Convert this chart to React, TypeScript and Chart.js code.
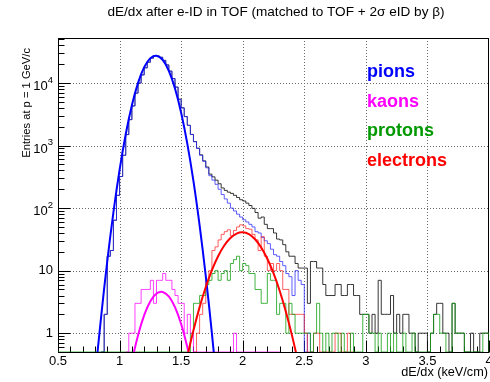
import React, { useEffect, useRef } from "react";
import { Chart, registerables } from "chart.js";

Chart.register(...registerables);

// ---------- axis / binning ----------
const BIN_WIDTH = 0.025;
const X_MIN = 0.5;
const X_MAX = 4.0;
const Y_MIN = 0.5;
const Y_MAX = 52500;

const X_TICK_VALUES = [0.5, 1, 1.5, 2, 2.5, 3, 3.5, 4];
const X_TICK_LABELS = ["0.5", "1", "1.5", "2", "2.5", "3", "3.5", "4"];
const Y_TICK_VALUES = [1, 10, 100, 1000, 10000];
const Y_TICK_BASES = ["1", "10", "10", "10", "10"];
const Y_TICK_EXPONENTS = ["", "", "2", "3", "4"];

const TITLE = "dE/dx after e-ID in TOF (matched to TOF + 2σ eID by β)";
const X_TITLE = "dE/dx (keV/cm)";
const Y_TITLE = "Entries at p = 1 GeV/c";

const SPECIES = ["pions", "kaons", "protons", "electrons"];
const SPECIES_COLORS = ["#0000ff", "#ff00ff", "#009900", "#ff0000"];

// ---------- histograms (bin counts, first bin low edge = start) ----------
const allStart = 0.85;
const allCounts = [
  0, 2, 17, 21, 64, 160, 320, 700, 1500, 2600,
  4300, 6900, 10000, 13500, 17510, 21510, 25010, 27510, 27010, 25810,
  23010, 19510, 15510, 11810, 8610, 5510, 4010, 2910, 2110, 1510,
  1160, 910, 710, 570, 455, 350, 316, 280, 245, 210,
  192, 180, 172, 160, 148, 136, 130, 120, 110, 99,
  85, 69, 72, 55, 47, 47, 40, 32, 31, 26,
  20, 17, 17, 13, 11, 11, 11, 3, 14, 14,
  11, 11, 6, 4, 4, 4, 6, 6, 4, 4,
  6, 6, 4, 4, 2, 2, 2, 1, 2, 1,
  7, 2, 2, 2, 4, 1, 2, 1, 2, 2,
  1, 1, 0, 1, 1, 1, 0, 1, 2, 3,
  3, 1, 1, 0, 3, 1, 1, 1, 0, 0,
  1, 0, 0, 1, 1, 1,
];

const pionStart = 0.85;
const pionCounts = [
  0, 2, 17, 21, 64, 160, 320, 700, 1500, 2600,
  4300, 6900, 10000, 13500, 17500, 21500, 25000, 27500, 27000, 25800,
  23000, 19500, 15500, 11800, 8600, 5500, 4000, 2900, 2100, 1500,
  1150, 900, 700, 560, 440, 330, 280, 240, 200, 165,
  140, 120, 100, 90, 80, 72, 65, 60, 55, 50,
  42, 40, 34, 30, 27, 22, 18, 17, 14, 12,
  9, 8, 4, 10, 7, 6, 0, 1, 0,
];

const kaonStart = 1.05;
const kaonCounts = [
  0, 1, 1, 3, 3, 5, 5, 5, 7, 3,
  7, 7, 9, 7, 7, 5, 4, 3, 3, 1,
  2, 1, 0, 0, 0, 0, 0, 0, 0, 0,
  0, 0, 0, 0, 0, 1, 0, 0, 0, 0,
  0, 0, 0, 0, 0, 0, 0, 0, 0, 0,
];

const protonStart = 0.5;
const protonCounts = [
  0, 0, 0, 0, 0, 0, 0, 0, 0, 0,
  0, 0, 0, 0, 0, 0, 0, 0, 0, 0,
  0, 0, 0, 0, 0, 0, 0, 0, 0, 0,
  0, 0, 0, 0, 0, 0, 0, 0, 0, 0,
  0, 0,
  0, 1, 3, 3, 4, 4, 6, 7, 9, 10,
  7, 9, 10, 7, 13, 15, 17, 10, 13, 12,
  9, 9, 5, 5, 3, 3, 9, 7, 7, 2,
  3, 3, 1, 3, 2, 1, 1, 1, 1, 1,
  0, 1, 3, 1, 0, 1, 0, 1, 1, 0,
  1, 0, 0, 1, 0, 0, 0, 2, 2, 1,
  1, 0, 1, 0, 0, 1, 0, 1, 0, 0,
  1, 0, 0, 1, 0, 0, 0, 0, 0, 1,
  2, 2, 1, 1, 0, 0, 3, 1, 1, 1,
  0, 0, 0, 0, 0, 0, 1, 1,
];

const electronStart = 1.6;
const electronCounts = [
  0, 1, 2, 3, 7, 10, 21, 24, 31, 38,
  42, 45, 36, 44, 50, 54, 52, 47, 46, 38,
  31, 21, 35, 17, 10, 13, 10, 13, 10, 5,
  5, 2, 2, 2, 2, 2, 1, 0, 0, 1,
  1, 0, 0, 0, 0, 0, 1, 1, 0, 0,
  1, 0,
];

// ---------- fitted curves ----------
const pionFitX = [0.75, 0.8, 0.85, 0.9, 0.95, 1.0, 1.05, 1.1, 1.15, 1.2, 1.25, 1.3, 1.35, 1.4, 1.45, 1.5, 1.55, 1.6, 1.65, 1.7, 1.75, 1.8, 1.85];
const pionFitY = [0.0145, 0.184, 1.81, 14.1, 85.7, 407, 1517, 4415, 10060, 17930, 25030, 27330, 23370, 15630, 8180, 3355, 1076, 270, 52.9, 8.15, 0.98, 0.092, 0.0068];

const kaonFitX = [1.0, 1.05, 1.1, 1.15, 1.2, 1.25, 1.3, 1.35, 1.4, 1.45, 1.5, 1.55, 1.6, 1.65, 1.7];
const kaonFitY = [0.0259, 0.107, 0.352, 0.926, 1.939, 3.237, 4.308, 4.57, 3.864, 2.604, 1.399, 0.599, 0.205, 0.0556, 0.0121];

const electronFitX = [1.45, 1.5, 1.55, 1.6, 1.65, 1.7, 1.75, 1.8, 1.85, 1.9, 1.95, 2.0, 2.05, 2.1, 2.15, 2.2, 2.25, 2.3, 2.35, 2.4, 2.45, 2.5, 2.55];
const electronFitY = [0.0426, 0.1415, 0.42, 1.11, 2.61, 5.47, 10.23, 17.01, 25.21, 33.28, 39.12, 40.98, 38.23, 31.77, 23.52, 15.51, 9.11, 4.77, 2.22, 0.922, 0.341, 0.112, 0.033];

const FONT = "'Liberation Sans', Arial, Helvetica, sans-serif";

function histPoints(start: number, counts: number[]) {
  const pts = counts.map((c, i) => ({ x: start + i * BIN_WIDTH, y: c > 0 ? c : Y_MIN }));
  pts.push({ x: start + counts.length * BIN_WIDTH, y: Y_MIN });
  return pts;
}

function curvePoints(xs: number[], ys: number[]) {
  return xs.map((x, i) => ({ x, y: ys[i] }));
}

const rootStylePlugin = {
  id: "rootStyle",
  beforeDatasetsDraw(chart: any) {
    const { ctx, chartArea: a } = chart;
    const xs = chart.scales.x;
    const ys = chart.scales.y;
    const line = (x1: number, y1: number, x2: number, y2: number) => {
      ctx.beginPath();
      ctx.moveTo(x1, y1);
      ctx.lineTo(x2, y2);
      ctx.stroke();
    };
    ctx.save();
    // dotted grid
    ctx.strokeStyle = "#6a6a6a";
    ctx.lineWidth = 1;
    ctx.setLineDash([1, 2]);
    X_TICK_VALUES.forEach((v) => {
      if (v <= X_MIN || v >= X_MAX) return;
      const px = Math.round(xs.getPixelForValue(v)) + 0.5;
      line(px, a.top, px, a.bottom);
    });
    Y_TICK_VALUES.forEach((v) => {
      const py = Math.round(ys.getPixelForValue(v)) + 0.5;
      line(a.left, py, a.right, py);
    });
    ctx.setLineDash([]);
    // frame
    ctx.strokeStyle = "#000";
    const l = Math.round(a.left) + 0.5;
    const t = Math.round(a.top) + 0.5;
    const r = Math.round(a.right) - 0.5;
    const b = Math.round(a.bottom) + 0.5;
    ctx.strokeRect(l, t, r - l, b - t);
    // x ticks (inside, from bottom)
    for (let k = 5; k <= 40; k++) {
      const v = k / 10;
      const px = Math.round(xs.getPixelForValue(v)) + 0.5;
      const len = k % 5 === 0 ? 12 : 6;
      line(px, b, px, b - len);
    }
    // y ticks (inside, from left)
    for (let e = -1; e <= 4; e++) {
      for (let m = 1; m <= 9; m++) {
        const v = m * Math.pow(10, e);
        if (v < Y_MIN || v > Y_MAX) continue;
        const py = Math.round(ys.getPixelForValue(v)) + 0.5;
        const len = m === 1 ? 12 : 6;
        line(l, py, l + len, py);
      }
    }
    ctx.restore();
  },
  afterDraw(chart: any) {
    const { ctx, chartArea: a } = chart;
    const xs = chart.scales.x;
    const ys = chart.scales.y;
    ctx.save();
    ctx.fillStyle = "#000";
    // x tick labels
    ctx.font = `13px ${FONT}`;
    ctx.textAlign = "center";
    ctx.textBaseline = "middle";
    X_TICK_VALUES.forEach((v, i) => {
      ctx.fillText(X_TICK_LABELS[i], xs.getPixelForValue(v), a.bottom + 9);
    });
    // y tick labels
    const right = a.left - 5;
    Y_TICK_VALUES.forEach((v, i) => {
      const py = ys.getPixelForValue(v);
      const exp = Y_TICK_EXPONENTS[i];
      ctx.textAlign = "right";
      if (!exp) {
        ctx.font = `13px ${FONT}`;
        ctx.fillText(Y_TICK_BASES[i], right, py);
      } else {
        ctx.font = `9.5px ${FONT}`;
        const w = ctx.measureText(exp).width;
        ctx.fillText(exp, right, py - 3);
        ctx.font = `13px ${FONT}`;
        ctx.fillText(Y_TICK_BASES[i], right - w, py + 3.5);
      }
    });
    // title
    ctx.font = `13.6px ${FONT}`;
    ctx.textAlign = "center";
    ctx.textBaseline = "middle";
    ctx.fillText(TITLE, 276, 12.5);
    // x title
    ctx.font = `12.7px ${FONT}`;
    ctx.textAlign = "right";
    ctx.fillText(X_TITLE, 488, 372.5);
    // y title
    ctx.save();
    ctx.translate(27, 48);
    ctx.rotate(-Math.PI / 2);
    ctx.font = `11.2px ${FONT}`;
    ctx.textAlign = "right";
    ctx.textBaseline = "middle";
    ctx.fillText(Y_TITLE, 0, 0);
    ctx.restore();
    // species labels
    ctx.font = `bold 18px ${FONT}`;
    ctx.textAlign = "left";
    ctx.textBaseline = "alphabetic";
    const baselines = [77, 106.5, 136, 166];
    SPECIES.forEach((s, i) => {
      ctx.fillStyle = SPECIES_COLORS[i];
      ctx.fillText(s, 367, baselines[i]);
    });
    ctx.restore();
  },
};

export default function App() {
  const ref = useRef<HTMLCanvasElement>(null);
  useEffect(() => {
    if (!ref.current) return;
    const histStyle = (color: string, order: number) => ({
      borderColor: color,
      borderWidth: 1,
      stepped: true as const,
      pointRadius: 0,
      fill: false,
      order,
    });
    const fitStyle = (color: string, order: number) => ({
      borderColor: color,
      borderWidth: 2,
      tension: 0.4,
      pointRadius: 0,
      fill: false,
      order,
    });
    const chart = new Chart(ref.current, {
      type: "line",
      data: {
        datasets: [
          { label: "all", data: histPoints(allStart, allCounts), ...histStyle("rgba(20,20,20,0.85)", 9) },
          { label: "pions", data: histPoints(pionStart, pionCounts), ...histStyle("rgba(40,40,255,0.75)", 8) },
          { label: "electrons", data: histPoints(electronStart, electronCounts), ...histStyle("rgba(255,30,30,0.7)", 7) },
          { label: "protons", data: histPoints(protonStart, protonCounts), ...histStyle("rgba(20,160,20,0.8)", 6) },
          { label: "kaons", data: histPoints(kaonStart, kaonCounts), ...histStyle("rgba(255,0,255,0.75)", 5) },
          { label: "pion fit", data: curvePoints(pionFitX, pionFitY), ...fitStyle("#0000ff", 2) },
          { label: "kaon fit", data: curvePoints(kaonFitX, kaonFitY), ...fitStyle("#ff00ff", 1) },
          { label: "electron fit", data: curvePoints(electronFitX, electronFitY), ...fitStyle("#ff0000", 0) },
        ],
      },
      options: {
        animation: false,
        responsive: false,
        maintainAspectRatio: false,
        layout: { padding: { left: 58, top: 38, right: 1, bottom: 30 } },
        scales: {
          x: { type: "linear", min: X_MIN, max: X_MAX, display: false },
          y: { type: "logarithmic", min: Y_MIN, max: Y_MAX, display: false },
        },
        plugins: {
          legend: { display: false },
          tooltip: { enabled: false },
        },
        elements: { point: { radius: 0 } },
      },
      plugins: [rootStylePlugin],
    } as any);
    return () => chart.destroy();
  }, []);
  return (
    <div style={{ position: "fixed", left: 0, top: 0, width: 490, height: 382, background: "#fff" }}>
      <canvas ref={ref} width={490} height={382} style={{ display: "block", width: 490, height: 382 }} />
    </div>
  );
}
